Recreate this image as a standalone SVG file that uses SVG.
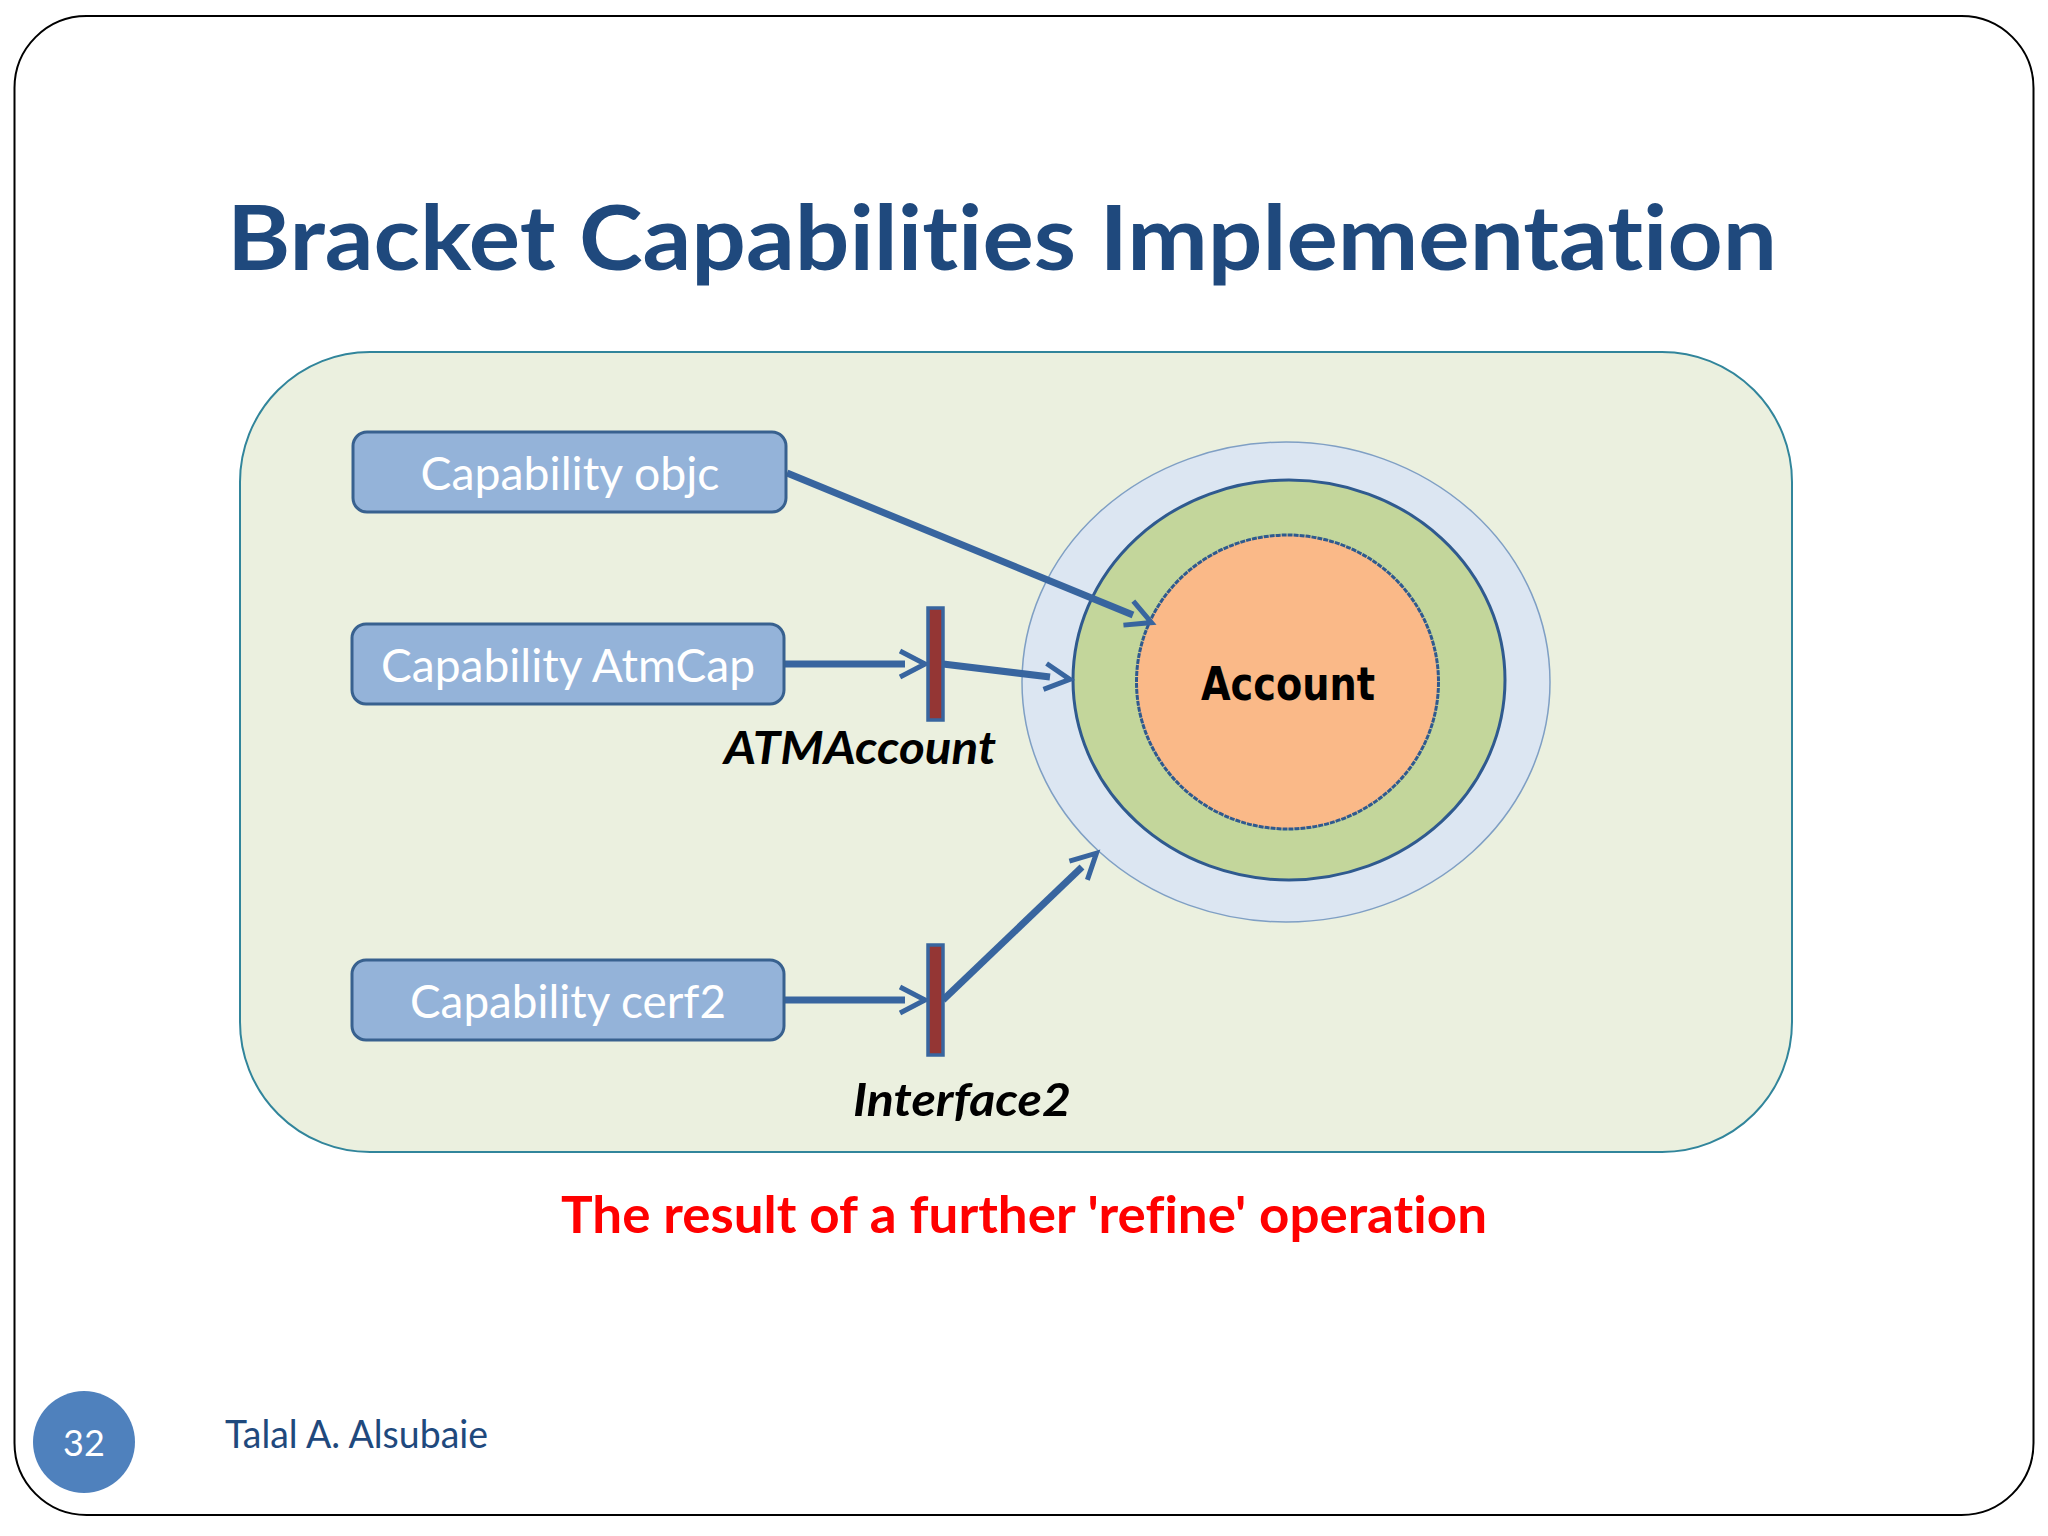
<svg xmlns="http://www.w3.org/2000/svg" width="2048" height="1536" viewBox="0 0 2048 1536">
<defs>
<marker id="a" markerUnits="userSpaceOnUse" viewBox="-10 -18 36 36" markerWidth="36" markerHeight="36" refX="0" refY="0" orient="auto"><path d="M-5 -13L20 0L-5 13" fill="none" stroke="#38659f" stroke-width="5"/></marker>
</defs>
<style>
text{font-family:Lato,"Liberation Sans",sans-serif;font-variant-ligatures:none}
.box{fill:#94b3d9;stroke:#38618f;stroke-width:3}
.cap{fill:#fff;font-size:46px;text-anchor:middle}
.bar{fill:#943634;stroke:#38659f;stroke-width:3.500}
.con{fill:none;stroke:#38659f;stroke-width:7;marker-end:url(#a)}
.lab{font-size:46px;font-weight:bold;font-style:italic;fill:#000;text-anchor:middle}
</style>
<rect width="2048" height="1536" fill="#fff"/>
<rect x="14.500" y="16" width="2019" height="1499" rx="72" fill="#fff" stroke="#000" stroke-width="2"/>
<text x="227" y="270" font-size="90" font-weight="bold" fill="#1f497d" textLength="1550" lengthAdjust="spacingAndGlyphs">Bracket Capabilities Implementation</text>
<rect id="panel" x="240" y="352" width="1552" height="800" rx="130" fill="#ebf0df" stroke="#31859b" stroke-width="2"/>
<g id="account">
<ellipse cx="1286" cy="682" rx="264" ry="240" fill="#dce6f2" stroke="#7f9fc4" stroke-width="1.500"/>
<ellipse cx="1289" cy="680" rx="216" ry="200" fill="#c3d69b" stroke="#2f5a8f" stroke-width="3"/>
<ellipse cx="1287.500" cy="682" rx="151" ry="147" fill="#fab988" stroke="#2f5a8f" stroke-width="3" stroke-dasharray="5 1"/>
<text x="1288" y="700" font-size="46" font-weight="bold" fill="#000" text-anchor="middle" style="font-family:'DejaVu Sans',sans-serif" textLength="174" lengthAdjust="spacingAndGlyphs">Account</text>
</g>
<g id="connectors">
<line class="con" x1="787" y1="473" x2="1133" y2="615"/>
<line class="con" x1="785" y1="664" x2="905" y2="664"/>
<line class="con" x1="943" y1="664" x2="1050" y2="677"/>
<line class="con" x1="785" y1="1000" x2="905" y2="1000"/>
<line class="con" x1="943" y1="1000" x2="1082" y2="867"/>
</g>
<g id="cap-objc"><rect class="box" x="353" y="432" width="433" height="80" rx="14"/><text class="cap" x="570" y="490" textLength="299" lengthAdjust="spacingAndGlyphs">Capability objc</text></g>
<g id="cap-atm"><rect class="box" x="352" y="624" width="432" height="80" rx="14"/><text class="cap" x="568" y="682" textLength="374" lengthAdjust="spacingAndGlyphs">Capability AtmCap</text></g>
<g id="cap-cerf"><rect class="box" x="352" y="960" width="432" height="80" rx="14"/><text class="cap" x="568" y="1018" textLength="316" lengthAdjust="spacingAndGlyphs">Capability cerf2</text></g>
<g id="atm-account"><rect class="bar" x="928" y="608" width="15" height="112"/><text class="lab" x="860" y="764" textLength="272" lengthAdjust="spacingAndGlyphs">ATMAccount</text></g>
<g id="interface2"><rect class="bar" x="928" y="945" width="15" height="110"/><text class="lab" x="962" y="1116" textLength="218" lengthAdjust="spacingAndGlyphs">Interface2</text></g>
<text x="1024" y="1233" font-size="52" font-weight="bold" fill="#f00" text-anchor="middle" textLength="926" lengthAdjust="spacingAndGlyphs">The result of a further 'refine' operation</text>
<g id="page"><circle cx="84" cy="1442" r="51" fill="#4f81bd"/><text x="84" y="1456" font-size="36" fill="#fff" text-anchor="middle">32</text></g>
<text x="225" y="1448" font-size="38" fill="#1f497d" textLength="263" lengthAdjust="spacingAndGlyphs">Talal A. Alsubaie</text>
</svg>
